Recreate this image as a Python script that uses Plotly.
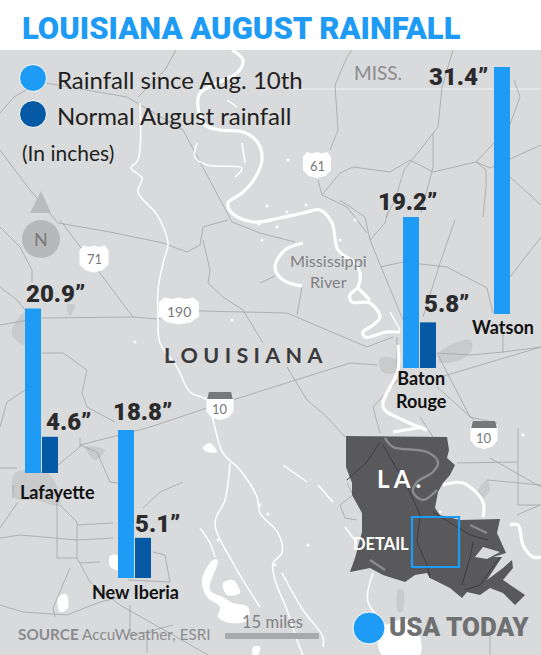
import plotly.graph_objects as go

# chart data, inches
places = ["Watson", "Baton<br>Rouge", "Lafayette", "New Iberia"]
rain_since = [31.4, 19.2, 20.9, 18.8]
rain_normal = [None, 5.8, 4.6, 5.1]

# where each group sits on the map (pixels)
x_since = [502, 411, 33, 126]
x_normal = [None, 428, 50, 143]
baseline_px = [314, 368, 473, 578]
px_per_inch = 7.87

BLUE = "#1e9bf5"
NAVY = "#0559a5"
MAP = "#d9dadc"
ROAD = "#a2a3a5"
FONT = "Lato"
HEAVY = "Roboto"

# map geometry in pixels
rivers = [
    [(232,50),(243,60),(238,72),(213,85),(200,93),(198,107),(205,125),(220,130),(243,132),(258,143),(262,160),(255,178),(242,193),(228,203),(232,213),(253,222),(280,218),(303,213),(320,210),(332,223),(338,250),(355,263),(360,273),(358,287),(350,295),(352,302),(370,303),(380,317),(373,325),(363,332),(365,337),(387,332),(400,332)],
    [(303,243),(285,250),(275,267),(283,280),(302,286)],
    [(358,288),(370,300)],
    [(398,345),(398,370),(383,407),(403,420),(427,430)],
    [(393,432),(423,427)],
    [(443,485),(463,483),(483,502),(483,517)],
    [(510,525),(518,525),(523,545),(533,557),(541,557)],
]
thin_rivers = [
    [(140,103),(138,160),(131,168),(142,178),(138,192),(155,212),(160,220),(168,243),(163,263),(158,290),(158,320),(160,343),(177,367),(190,392),(207,400),(213,420),(223,453),(240,470),(257,497),(260,513),(278,533),(282,553),(273,563),(275,580),(287,610),(297,640),(303,655)],
    [(230,463),(225,500),(215,523),(233,563),(260,607)],
    [(282,573),(303,610),(323,637),(323,647)],
    [(197,143),(195,157),(207,165),(242,168),(235,177)],
    [(242,143),(245,163)],
    [(227,100),(237,107)],
    [(200,528),(210,543),(215,557)],
    [(283,465),(307,482)],
    [(318,485),(333,502)],
    [(345,527),(357,543)],
    [(373,573),(368,602),(393,635),(397,655)],
    [(390,312),(400,330)],
]
roads = [
    [(0,325),(40,318),(133,317),(157,319),(200,311),(243,312),(260,313),(287,313),(367,347),(393,337)],
    [(60,220),(100,273),(133,317)],
    [(0,150),(30,190),(58,223),(110,232),(163,243),(187,252),(200,245),(203,227),(228,220)],
    [(183,130),(232,222),(260,233),(295,242)],
    [(203,240),(210,270),(208,283),(223,297),(243,310),(263,343)],
    [(80,445),(147,428),(207,408),(270,388),(350,363),(377,365)],
    [(437,378),(541,347)],
    [(437,353),(470,355),(503,352),(541,347)],
    [(340,200),(365,217),(370,240),(403,320)],
    [(388,212),(385,223),(370,240)],
    [(455,220),(440,263),(423,317)],
    [(380,267),(403,262),(447,267),(487,288),(493,313)],
    [(510,277),(541,237)],
    [(503,333),(503,353)],
    [(302,287),(297,315)],
    [(260,283),(275,276)],
    [(437,353),(470,417),(497,423)],
    [(397,337),(397,368)],
    [(398,380),(373,407),(380,433)],
    [(420,417),(433,437)],
    [(287,367),(307,400),(327,417),(345,437)],
    [(437,387),(474,420)],
    [(490,458),(541,487)],
    [(457,463),(517,462)],
    [(487,480),(541,485)],
    [(518,428),(518,505),(541,505)],
    [(517,515),(540,505)],
    [(490,632),(490,655)],
    [(347,483),(353,495),(340,505),(345,518),(357,520)],
    [(0,113),(14,97),(40,82),(127,97),(183,130)],
    [(176,50),(165,70),(138,97)],
    [(352,50),(347,57),(335,85),(338,130),(330,150)],
    [(318,180),(322,195),(347,207),(367,233)],
    [(322,195),(340,173),(353,167),(390,172),(410,160),(433,172),(476,162),(490,168),(541,145)],
    [(453,50),(442,87),(438,127),(404,170),(395,200),(386,217)],
    [(433,133),(433,167),(421,213)],
    [(476,162),(509,127),(520,97),(514,80)],
    [(476,162),(486,170),(486,187),(483,217)],
    [(510,177),(541,205)],
    [(0,227),(20,247),(32,270),(32,282)],
    [(0,287),(17,300),(25,310)],
    [(42,353),(63,353),(87,370),(82,393),(87,407),(115,422)],
    [(25,390),(7,402),(0,427)],
    [(0,468),(17,468)],
    [(48,473),(80,447),(80,438)],
    [(80,445),(97,452),(110,482),(118,483)],
    [(60,505),(77,522),(77,558),(90,582),(120,605),(208,655)],
    [(0,538),(20,535),(77,540),(113,538)],
    [(77,525),(113,523)],
    [(143,508),(160,492),(183,482)],
    [(0,605),(23,612),(67,615),(100,602),(117,598)],
    [(70,568),(53,608),(55,617)],
    [(80,563),(100,562)],
    [(57,502),(57,558),(77,558)],
    [(13,485),(13,498)],
    [(18,502),(0,528)],
    [(153,552),(165,555),(170,582),(128,580)],
    [(130,605),(130,635),(147,632),(147,653)],
    [(173,625),(147,632)],
]
blobs = [
    [(18,318),(28,312),(26,345),(12,335)],
    [(15,473),(48,473),(60,505),(35,500),(15,498)],
    [(85,447),(105,450),(95,460)],
    [(440,352),(470,340),(472,350),(460,360),(440,362)],
    [(380,358),(397,360),(397,372),(382,372)],
    [(67,305),(75,305),(70,316)],
    [(477,493),(487,480),(490,490),(480,500)],
    [(398,590),(403,590),(402,612),(398,612)],
]
lakes = [
    [(202,580),(213,560),(218,560),(210,590),(223,597),(233,603),(248,607),(248,620),(230,623),(218,617),(220,607),(207,597)],
    [(223,583),(233,580),(240,593),(227,595)],
    [(203,448),(210,443),(217,452),(207,452)],
    [(58,598),(66,594),(68,608),(60,612)],
    [(110,556),(117,555),(118,570),(110,566)],
    [(253,647),(260,647),(258,655),(253,655)],
    [(380,630),(412,620),(420,655),(382,655)],
]
specks_x = [259, 277, 287, 312, 267, 262, 232, 288, 306, 340, 268, 135, 308, 355, 372, 218, 260, 275, 440, 523]
specks_y = [224, 227, 212, 175, 206, 240, 320, 160, 205, 240, 514, 342, 545, 220, 305, 540, 505, 565, 512, 435]
louisiana = [(346,436),(447,437),(449,450),(447,458),(455,465),(450,475),(443,483),(438,492),(435,508),(440,515),(460,520),(500,519),(497,533),(502,545),(506,553),(493,557),(502,557),(487,580),(503,568),(512,560),(513,568),(503,580),(525,595),(515,605),(503,593),(490,588),(480,595),(467,592),(462,598),(450,588),(430,578),(427,573),(415,575),(405,582),(383,575),(370,568),(350,572),(355,558),(362,532),(362,513),(352,495),(352,483),(346,467)]
inset_lake = [(475,557),(483,547),(500,552),(487,559)]
inset_rivers = [
    [(385,438),(393,447),(427,452),(438,462),(433,472),(417,482),(413,492),(423,500),(437,490)],
    [(470,525),(487,533)],
    [(370,560),(385,570)],
]
inset_lines = [
    [(380,442),(367,462),(347,480)],
    [(383,445),(410,492),(420,515),(417,542),(427,565),(430,578)],
    [(433,512),(470,535),(488,540)],
    [(473,542),(470,558),(462,585)],
    [(500,557),(480,585),(465,590)],
]


def flatten(paths):
    xs, ys = [], []
    for path in paths:
        xs += [p[0] for p in path] + [None]
        ys += [p[1] for p in path] + [None]
    return xs, ys


def add_lines(paths, color, width, shape="linear"):
    xs, ys = flatten(paths)
    fig.add_trace(go.Scatter(x=xs, y=ys, mode="lines", line=dict(color=color, width=width, shape=shape), hoverinfo="skip"))


def add_fill(path, color, shape="linear"):
    xs, ys = flatten([path + path[:1]])
    fig.add_trace(go.Scatter(x=xs, y=ys, mode="lines", fill="toself", fillcolor=color,
                             line=dict(width=0, shape=shape), hoverinfo="skip"))


def shield(cx, cy, w, h):
    # US route shield outline
    return [(cx-w/2,cy-h*0.32),(cx-w*0.36,cy-h*0.5),(cx-w*0.18,cy-h*0.44),(cx,cy-h*0.5),(cx+w*0.18,cy-h*0.44),(cx+w*0.36,cy-h*0.5),
            (cx+w/2,cy-h*0.32),(cx+w/2,cy+h*0.2),(cx+w*0.3,cy+h*0.42),(cx,cy+h*0.5),(cx-w*0.3,cy+h*0.42),(cx-w/2,cy+h*0.2)]


def label(x, y, text, size=16, color="#231f20", weight=400, anchor="center", family=FONT):
    fig.add_annotation(x=x, y=y, text=text, showarrow=False, xanchor=anchor, yanchor="middle", align="center",
                       font=dict(family=family, size=size, color=color, weight=weight), xref="x", yref="y")


fig = go.Figure()

# white header + grey map
fig.add_shape(type="rect", x0=0, x1=541, y0=50, y1=655, fillcolor=MAP, line_width=0, layer="below")
fig.add_shape(type="line", x0=290, x1=541, y0=89, y1=89, line=dict(color="#f1f1f2", width=1.2), layer="below")

for b in blobs:
    add_fill(b, "#c9cacc", shape="spline")
for l in lakes:
    add_fill(l, "white", shape="spline")
add_lines(roads, ROAD, 0.8)
add_lines(thin_rivers, "white", 1.5, shape="spline")
add_lines(rivers, "white", 3.2, shape="spline")
fig.add_trace(go.Scatter(x=specks_x, y=specks_y, mode="markers", marker=dict(size=3, color="white", opacity=1), hoverinfo="skip"))

# inset of the state
add_fill(louisiana, "#59595b")
add_lines(inset_lines, "#3c3c3e", 1)
add_lines(inset_rivers, "#8b8c8e", 2.4, shape="spline")
add_fill(inset_lake, MAP)
fig.add_shape(type="rect", x0=412, x1=459, y0=517, y1=567, line=dict(color=BLUE, width=2.2), layer="above")

# north arrow
add_fill([(41,191),(51,213),(30,213)], "#b9bbbd")
fig.add_trace(go.Scatter(x=[41], y=[239], mode="markers", marker=dict(size=38, color="#b7b8ba", opacity=1), hoverinfo="skip"))

# road signs
for cx, cy, w, h in [(317,165,28,26),(94,259,29,27),(179,311,40,27)]:
    add_fill(shield(cx, cy, w, h), "white")
for cx, cy in [(220,406),(484,435)]:
    add_fill(shield(cx, cy, 27, 28), "white")
    add_fill([(cx-13,cy-7),(cx-11,cy-14),(cx+11,cy-14),(cx+13,cy-7)], "#77787a")

# scale bar and logo dot, legend dots
fig.add_shape(type="rect", x0=225, x1=319, y0=633, y1=639, fillcolor="#a8a9ab", line_width=0)
fig.add_trace(go.Scatter(x=[369, 33, 33], y=[628, 78, 114], mode="markers",
                         marker=dict(size=[32, 27, 27], color=[BLUE, BLUE, NAVY], opacity=1), hoverinfo="skip"))

# bars run on an inch axis laid over the pixel one
bases = [(655 - b) / px_per_inch for b in baseline_px]
fig.add_trace(go.Bar(x=x_since, y=rain_since, base=bases, width=16, marker=dict(color=BLUE, line_width=0),
                     name="Rainfall since Aug. 10th", yaxis="y2", xaxis="x"))
fig.add_trace(go.Bar(x=x_normal, y=rain_normal, base=bases, width=16, marker=dict(color=NAVY, line_width=0),
                     name="Normal August rainfall", yaxis="y2", xaxis="x"))

# text
label(20, 28, "LOUISIANA AUGUST RAINFALL", size=31, color=BLUE, weight=900, anchor="left", family=HEAVY)
label(55, 79, "Rainfall since Aug. 10th", size=24, anchor="left")
label(55, 115, "Normal August rainfall", size=24, anchor="left")
label(20, 152, "(In inches)", size=21, anchor="left")
label(378, 72, "MISS.", size=19, color="#8a8b8d")
label(41, 239, "N", size=18, color="#77787a")

since_labels = [(458, 77), (407, 202), (55, 294), (142, 412)]
normal_labels = [None, (446, 304), (68, 422), (157, 524)]
for v, pos in zip(rain_since, since_labels):
    label(pos[0], pos[1], f"{v}”", size=24, weight=900, color="#2b2b2d", family=HEAVY)
for v, pos in zip(rain_normal, normal_labels):
    if pos:
        label(pos[0], pos[1], f"{v}”", size=24, weight=900, color="#2b2b2d", family=HEAVY)

# two-line names stay one text so the lines do not collide
city_pos = [(503, 327), (421, 389), (57, 492), (135, 592)]
for name, pos in zip(places, city_pos):
    label(pos[0], pos[1], name, size=18, weight=700, color="#111111")

label(328, 271, "Mississippi<br>River", size=16.2, color="#808184")
label(244, 355, "L\u2005O\u2005U\u2005I\u2005S\u2005I\u2005A\u2005N\u2005A", size=21.5, weight=700, color="#3a3a3c")
label(317, 166, "61", size=13, color="#77787a")
label(94, 259, "71", size=13, color="#77787a")
label(179, 311, "190", size=14, color="#77787a")
label(220, 409, "10", size=13, color="#77787a")
label(484, 438, "10", size=13, color="#77787a")
label(399, 478, "L A .", size=24, weight=700, color="white")
label(381, 544, "DETAIL", size=16.5, weight=700, color="white")
label(272, 622, "15 miles", size=16.6, color="#808184")
label(16, 634, "<b>SOURCE</b> AccuWeather, ESRI", size=15.3, color="#8a8b8d", anchor="left")
label(459, 627, "USA TODAY", size=26, weight=900, color="#6f7072", family=HEAVY)

fig.update_layout(
    width=541,
    height=655,
    margin=dict(l=0, r=0, t=0, b=0),
    paper_bgcolor="white",
    plot_bgcolor="white",
    showlegend=False,
    barmode="overlay",
    xaxis=dict(range=[0, 541], visible=False, fixedrange=True),
    yaxis=dict(range=[655, 0], visible=False, fixedrange=True),
    yaxis2=dict(range=[0, 655 / px_per_inch], visible=False, overlaying="y", fixedrange=True),
)

fig.write_html("out.html", config=dict(displayModeBar=False),
               post_script="document.body.style.margin='0';document.body.style.overflow='hidden';")
